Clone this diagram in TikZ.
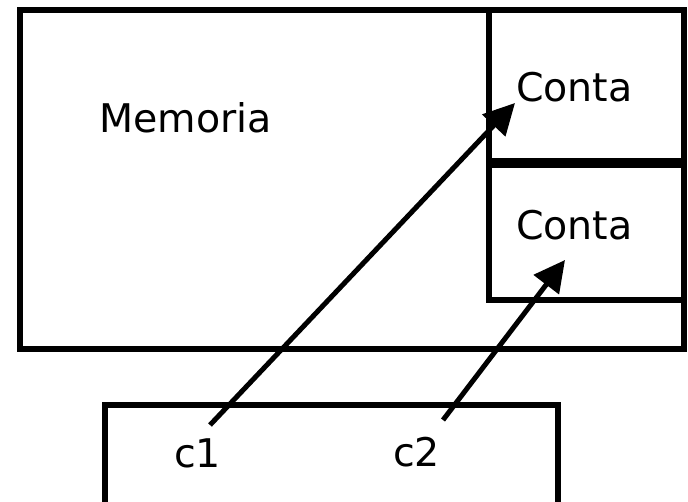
\documentclass[tikz,border=0pt]{standalone}
\usepackage{fontspec}
\setmainfont{DejaVu Sans}
\usetikzlibrary{arrows.meta}
\tikzset{
  boxline/.style={draw=black, line width=6pt},
  lbl/.style={anchor=base west, inner sep=0pt, font=\fontsize{39.5}{40}\selectfont},
  ptr/.style={draw=black, line width=5pt, -{Triangle[length=31pt,width=31pt]}}
}
\begin{document}
\begin{tikzpicture}[x=1pt,y=-1pt]
\useasboundingbox (0,0) rectangle (688,501);
% outer memory box
\draw[boxline] (20,9.5) rectangle (683.5,349);
% account boxes
\draw[boxline] (489,9.5) rectangle (683.5,161);
\draw[boxline] (489,164.5) rectangle (683.5,300);
% bottom box (clipped at the bottom)
\draw[boxline] (104.5,510) -- (104.5,405) -- (557.5,405) -- (557.5,510);
% labels
\node[lbl] (mem) at (99,132) {Memoria};
\node[lbl] (conta1) at (516,101) {Conta};
\node[lbl] (conta2) at (516,239) {Conta};
\node[lbl] (c1) at (174,467) {c1};
\node[lbl] (c2) at (393,466) {c2};
% pointer ends
\coordinate (s1) at (210,425);
\coordinate (t1) at (515,103);
\coordinate (s2) at (443,420);
\coordinate (t2) at (565,260);
\draw[ptr] (s1) -- (t1);
\draw[ptr] (s2) -- (t2);
\end{tikzpicture}
\end{document}
